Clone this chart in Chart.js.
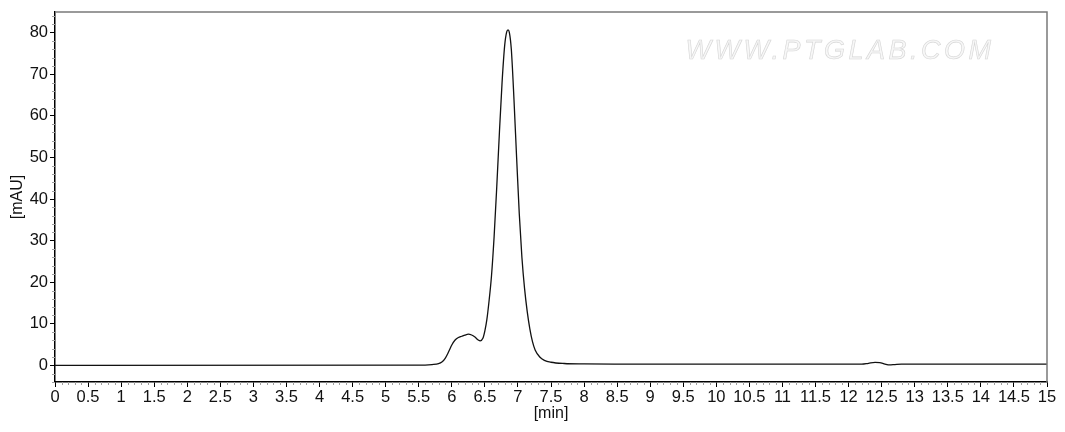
<!DOCTYPE html>
<html>
<head>
<meta charset="utf-8">
<script src="https://cdn.jsdelivr.net/npm/chart.js@4/dist/chart.umd.min.js"></script>
<style>
  html, body { margin: 0; padding: 0; background: #fff; }
  #wrap { width: 1065px; height: 432px; }
</style>
</head>
<body>
<div id="wrap"><canvas id="c" width="1065" height="432"></canvas></div>
<script>
// Retention time [min]
const times = [
  0, 5.5, 5.7, 5.8, 5.85, 5.9, 5.95, 6.0, 6.05, 6.1, 6.15, 6.2, 6.25, 6.3, 6.35, 6.4, 6.43, 6.47,
  6.5, 6.53, 6.56, 6.6, 6.64, 6.68, 6.72, 6.76, 6.8, 6.83, 6.85, 6.87, 6.9, 6.94, 6.98, 7.02,
  7.06, 7.1, 7.14, 7.18, 7.22, 7.26, 7.33, 7.4, 7.5, 7.7, 8.0, 8.5, 9.0, 10.0,
  12.2, 12.3, 12.4, 12.47, 12.55, 12.62, 12.7, 12.8, 15
];
// Absorbance [mAU]
const absorbance = [
  0, 0.05, 0.2, 0.4, 0.8, 1.7, 3.2, 4.9, 6.1, 6.7, 7.0, 7.3, 7.5, 7.3, 6.8, 6.1, 5.9, 6.5,
  8.3, 11.0, 15.0, 21.5, 31, 43, 56, 68, 77, 80.2, 80.7, 80.1, 76, 64, 50, 36.5,
  26, 18.5, 13, 8.8, 5.7, 3.7, 2.0, 1.2, 0.75, 0.45, 0.35, 0.3, 0.3, 0.3,
  0.3, 0.5, 0.7, 0.65, 0.3, 0.1, 0.2, 0.3, 0.3
];
const xTickValues = [0,0.5,1,1.5,2,2.5,3,3.5,4,4.5,5,5.5,6,6.5,7,7.5,8,8.5,9,9.5,10,10.5,11,11.5,12,12.5,13,13.5,14,14.5,15];
const yTickValues = [0,10,20,30,40,50,60,70,80];
const xTitle = '[min]';
const yTitle = '[mAU]';
const watermark = 'WWW.PTGLAB.COM';

const FONT = '"Liberation Sans", Arial, sans-serif';

const framePlugin = {
  id: 'frame',
  afterDraw(chart) {
    const { ctx, chartArea: a, scales } = chart;
    ctx.save();
    // top & right frame
    ctx.strokeStyle = '#7a7a7a';
    ctx.lineWidth = 1.5;
    ctx.beginPath();
    ctx.moveTo(a.left, a.top);
    ctx.lineTo(a.right, a.top);
    ctx.lineTo(a.right, a.bottom);
    ctx.stroke();
    // minor ticks
    ctx.strokeStyle = '#a0a0a0';
    ctx.lineWidth = 1;
    ctx.beginPath();
    const xs = scales.x, ys = scales.y;
    for (let i = 0; i <= 150; i++) {
      if (i % 5 === 0) continue;
      const px = Math.round(xs.getPixelForValue(i / 10)) + 0.5;
      ctx.moveTo(px, a.bottom);
      ctx.lineTo(px, a.bottom + 3);
    }
    for (let v = -4; v <= 84; v += 2) {
      if (v % 10 === 0) continue;
      const py = Math.round(ys.getPixelForValue(v)) + 0.5;
      ctx.moveTo(a.left, py);
      ctx.lineTo(a.left - 3, py);
    }
    ctx.stroke();
    // watermark
    ctx.font = 'italic 27px ' + FONT;
    ctx.letterSpacing = '3.5px';
    ctx.textAlign = 'center';
    ctx.textBaseline = 'middle';
    ctx.fillStyle = '#f7f7f7';
    ctx.fillText(watermark, 840, 51);
    ctx.strokeStyle = '#d6d6d6';
    ctx.lineWidth = 0.6;
    ctx.strokeText(watermark, 840, 51);
    ctx.restore();
  }
};

new Chart(document.getElementById('c'), {
  type: 'line',
  data: {
    datasets: [{
      data: times.map((t, i) => ({ x: t, y: absorbance[i] })),
      borderColor: '#111',
      borderWidth: 1.3,
      pointRadius: 0,
      fill: false,
      cubicInterpolationMode: 'monotone'
    }]
  },
  options: {
    responsive: false,
    animation: false,
    events: [],
    layout: { padding: { top: 7, right: 18, left: 0, bottom: 0 } },
    plugins: { legend: { display: false }, tooltip: { enabled: false } },
    scales: {
      x: {
        type: 'linear',
        min: 0, max: 15,
        afterFit(s) { s.height = 50; },
        afterBuildTicks(s) { s.ticks = xTickValues.map(v => ({ value: v })); },
        grid: { drawOnChartArea: false, color: '#000', tickLength: 5, tickWidth: 1 },
        border: { color: '#000', width: 1.5 },
        ticks: {
          autoSkip: false, maxRotation: 0, padding: 1,
          color: '#111', font: { family: FONT, size: 16.5 },
          callback: v => String(v)
        },
        title: { display: true, text: xTitle, color: '#111', font: { family: FONT, size: 16 }, padding: { top: 0, bottom: 9 } }
      },
      y: {
        type: 'linear',
        min: -4, max: 85,
        afterFit(s) { s.width = 55; },
        afterBuildTicks(s) { s.ticks = yTickValues.map(v => ({ value: v })); },
        grid: { drawOnChartArea: false, color: '#000', tickLength: 5, tickWidth: 1 },
        border: { color: '#000', width: 1.5 },
        ticks: { padding: 2, color: '#111', font: { family: FONT, size: 16.5 } },
        title: { display: true, text: yTitle, color: '#111', font: { family: FONT, size: 16 }, padding: { top: 8, bottom: 0 } }
      }
    }
  },
  plugins: [framePlugin]
});
</script>
</body>
</html>
